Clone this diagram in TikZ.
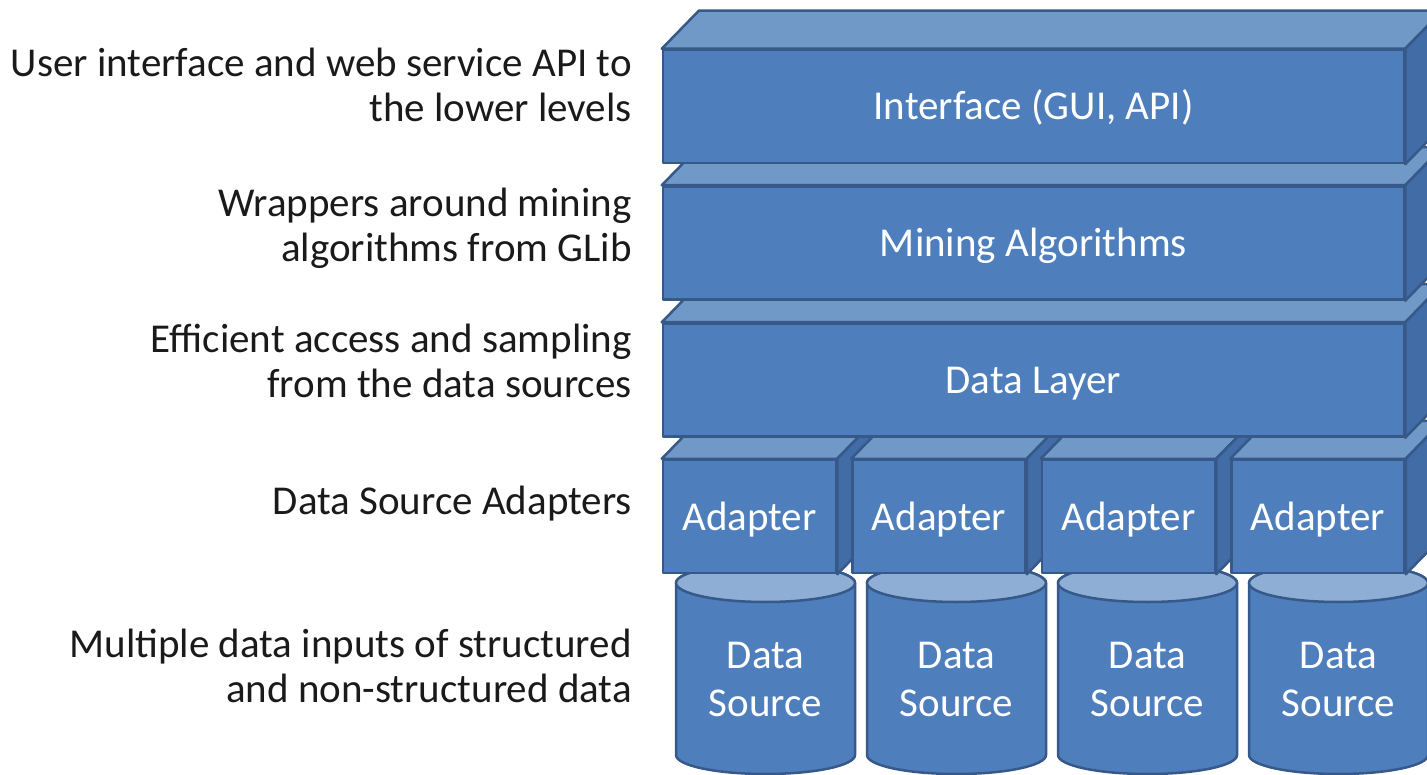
\documentclass[tikz,border=0pt]{standalone}
\usepackage{fontspec}
\setmainfont{Carlito}
\definecolor{faceblue}{HTML}{4E7FBC}
\definecolor{topblue}{HTML}{7199C8}
\definecolor{sideblue}{HTML}{416CA5}
\definecolor{edgeblue}{HTML}{36598A}
\definecolor{capblue}{HTML}{8FAED5}
\definecolor{labelink}{HTML}{1A1A1A}

\tikzset{
  outline/.style={draw=edgeblue, line width=2.5pt, line join=round},
  front/.style={outline, fill=faceblue, inner sep=0pt, text=white,
    font=\fontsize{41}{45}\selectfont, text height=27pt, text depth=0pt},
  layer/.style={front, minimum width=741pt, minimum height=113pt},
  adapterbox/.style={front, minimum width=173pt, minimum height=113pt},
  topface/.style={outline, fill=topblue},
  sideface/.style={outline, fill=sideblue},
  cylbody/.style={outline, fill=faceblue},
  cylcap/.style={outline, fill=capblue},
  dslabel/.style={inner sep=0pt, text=white, font=\fontsize{41}{48}\selectfont},
  sidenote/.style={inner sep=0pt, text=labelink, font=\fontsize{41}{45}\selectfont},
}

% top and right faces of a box whose front face is the node #1
\newcommand\boxfaces[1]{%
  \path[topface] (#1.north west) -- ([shift={(37,-38)}]#1.north west)
    -- ([shift={(37,-38)}]#1.north east) -- (#1.north east) -- cycle;
  \path[sideface] (#1.north east) -- ([shift={(37,-38)}]#1.north east)
    -- ([shift={(37,-38)}]#1.south east) -- (#1.south east) -- cycle;}

\begin{document}
\begin{tikzpicture}[x=1pt, y=-1pt]
\useasboundingbox (0,0) rectangle (1427,775);
\clip (0,0) rectangle (1427,775);

% data sources (cylinders)
\foreach \i in {0,...,3} {
  \pgfmathsetmacro\cx{765.5+191*\i}
  \path[cylbody] (\cx-89.5,583) -- (\cx-89.5,755)
    arc[start angle=180, end angle=360, x radius=89.5pt, y radius=19pt]
    -- (\cx+89.5,583)
    arc[start angle=0, end angle=180, x radius=89.5pt, y radius=19pt] -- cycle;
  \path[cylcap] (\cx,583) ellipse[x radius=89.5pt, y radius=19pt];
  \node[dslabel, anchor=base] (ds\i) at (\cx,668)
    {\begin{tabular}[t]{@{}c@{}}Data\\Source\end{tabular}};
}

% adapters
\foreach \i in {0,...,3} {
  \pgfmathsetmacro\ax{749.5+189.5*\i}
  \node[adapterbox] (ad\i) at (\ax,516.5) {Adapter};
  \boxfaces{ad\i}
}

% stacked layers, lowest first
\node[layer] (datalayer) at (1033.5,380) {Data Layer};
\boxfaces{datalayer}
\node[layer] (mining) at (1033.5,243) {Mining Algorithms};
\boxfaces{mining}
\node[layer] (iface) at (1033.5,106.5) {Interface (GUI, API)};
\boxfaces{iface}

% descriptions on the left
\node[sidenote, anchor=base east] (note1) at (632,77)
  {\begin{tabular}[t]{@{}r@{}}User interface and web service API to\\the lower levels\end{tabular}};
\node[sidenote, anchor=base east] (note2) at (632,217)
  {\begin{tabular}[t]{@{}r@{}}Wrappers around mining\\algorithms from GLib\end{tabular}};
\node[sidenote, anchor=base east] (note3) at (632,353)
  {\begin{tabular}[t]{@{}r@{}}Efficient access and sampling\\from the data sources\end{tabular}};
\node[sidenote, anchor=base east] (note4) at (632,514) {Data Source Adapters};
\node[sidenote, anchor=base east] (note5) at (632,657)
  {\begin{tabular}[t]{@{}r@{}}Multiple data inputs of structured\\and non-structured data\end{tabular}};
\end{tikzpicture}
\end{document}
